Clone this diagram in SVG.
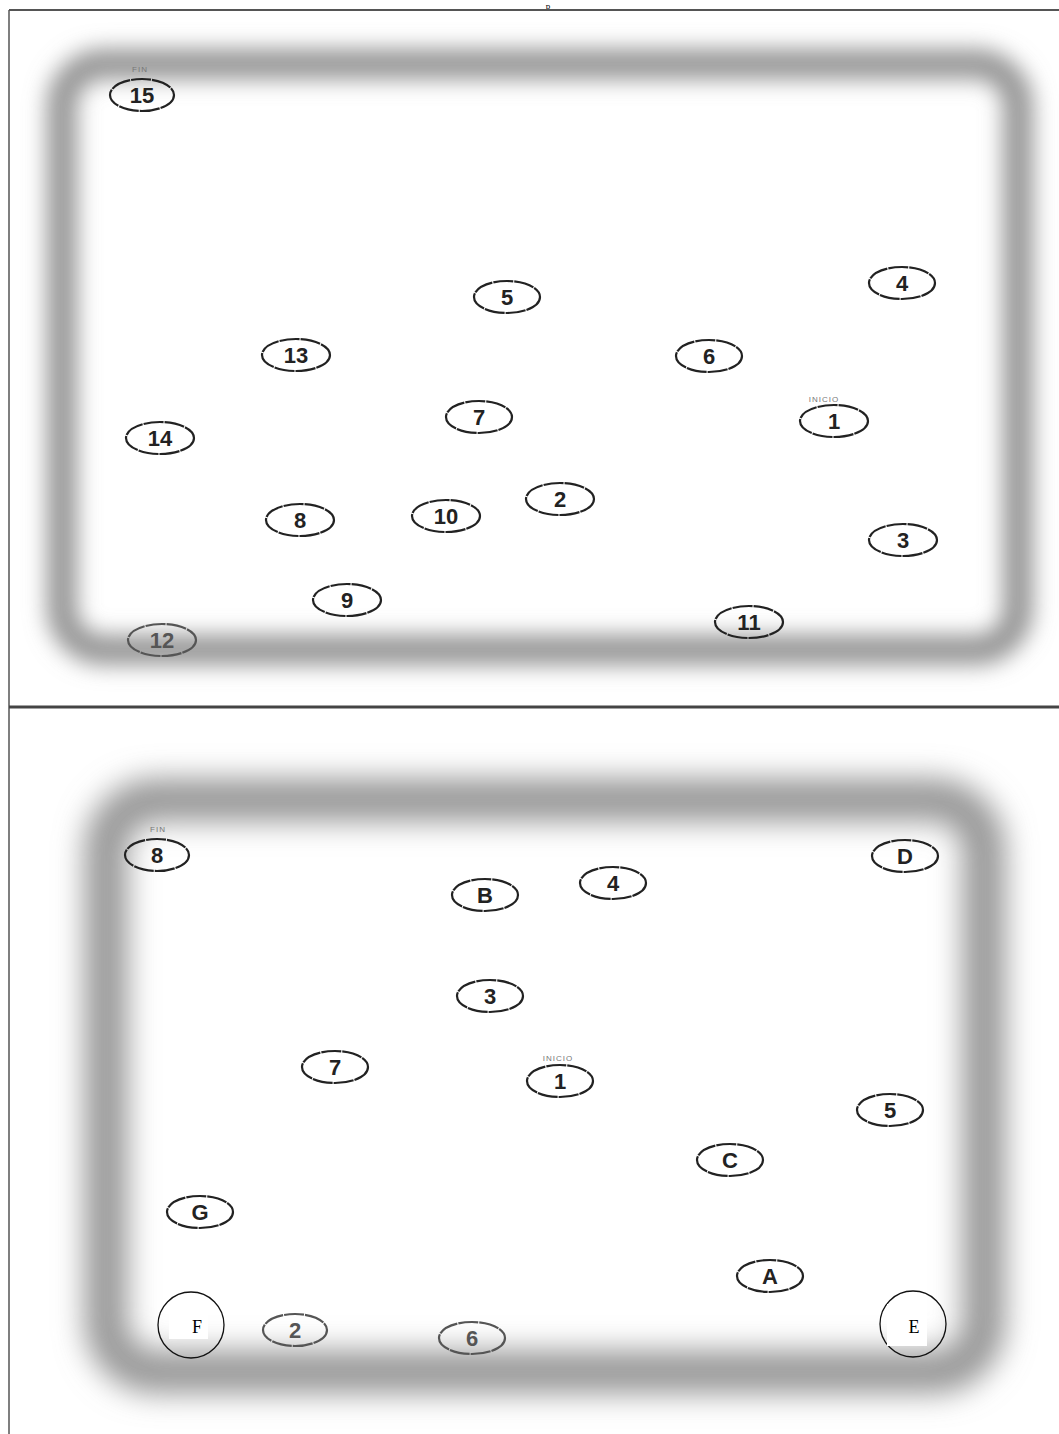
<svg xmlns="http://www.w3.org/2000/svg" width="1059" height="1434" viewBox="0 0 1059 1434">
<defs>
<filter id="blur" x="-10%" y="-10%" width="120%" height="120%"><feGaussianBlur stdDeviation="11"/></filter>
<filter id="blur2" x="-10%" y="-10%" width="120%" height="120%"><feGaussianBlur stdDeviation="15"/></filter>
<style>
.n ellipse{fill:none;stroke:#222;stroke-width:2.2;stroke-dasharray:20 1}
.n text{font-family:"Liberation Sans",Arial,sans-serif;font-size:22px;font-weight:bold;fill:#222;text-anchor:middle;dominant-baseline:central}
.lbl{font-family:"Liberation Sans",Arial,sans-serif;font-size:8px;fill:#777;text-anchor:middle;letter-spacing:1px}
.faint ellipse{stroke:#555}
.faint text{fill:#555}
.sq text{font-family:"Liberation Serif","Times New Roman",serif;font-size:18px;fill:#000;text-anchor:middle;dominant-baseline:central}
</style>
</defs>
<rect width="1059" height="1434" fill="#fff"/>
<text x="548" y="9" font-family="Liberation Serif,serif" font-size="9" text-anchor="middle" fill="#000">p</text>
<g id="frames">
<rect x="62" y="64" width="956" height="586" rx="42" fill="none" stroke="#959595" stroke-width="30" filter="url(#blur)"/>
<rect x="106" y="800" width="878" height="572" rx="50" fill="none" stroke="#959595" stroke-width="42" filter="url(#blur2)"/>
<line x1="9" y1="10" x2="1059" y2="10" stroke="#555" stroke-width="2"/>
<line x1="9" y1="10" x2="9" y2="1434" stroke="#555" stroke-width="1.5"/>
<line x1="9" y1="707" x2="1059" y2="707" stroke="#444" stroke-width="3"/>
</g>
<g id="connectors"></g>
<g id="top">
<text class="lbl" x="140" y="72">FIN</text>
<text class="lbl" x="824" y="402">INICIO</text>
<g id="t15" class="n"><ellipse cx="142" cy="95" rx="32" ry="16"/><text x="142" y="95">15</text></g>
<g id="t4" class="n"><ellipse cx="902" cy="283" rx="33" ry="16"/><text x="902" y="283">4</text></g>
<g id="t5" class="n"><ellipse cx="507" cy="297" rx="33" ry="16"/><text x="507" y="297">5</text></g>
<g id="t13" class="n"><ellipse cx="296" cy="355" rx="34" ry="16"/><text x="296" y="355">13</text></g>
<g id="t6" class="n"><ellipse cx="709" cy="356" rx="33" ry="16"/><text x="709" y="356">6</text></g>
<g id="t1" class="n"><ellipse cx="834" cy="421" rx="34" ry="16"/><text x="834" y="421">1</text></g>
<g id="t7" class="n"><ellipse cx="479" cy="417" rx="33" ry="16"/><text x="479" y="417">7</text></g>
<g id="t14" class="n"><ellipse cx="160" cy="438" rx="34" ry="16"/><text x="160" y="438">14</text></g>
<g id="t2" class="n"><ellipse cx="560" cy="499" rx="34" ry="16"/><text x="560" y="499">2</text></g>
<g id="t10" class="n"><ellipse cx="446" cy="516" rx="34" ry="16"/><text x="446" y="516">10</text></g>
<g id="t8" class="n"><ellipse cx="300" cy="520" rx="34" ry="16"/><text x="300" y="520">8</text></g>
<g id="t3" class="n"><ellipse cx="903" cy="540" rx="34" ry="16"/><text x="903" y="540">3</text></g>
<g id="t9" class="n"><ellipse cx="347" cy="600" rx="34" ry="16"/><text x="347" y="600">9</text></g>
<g id="t11" class="n"><ellipse cx="749" cy="622" rx="34" ry="16"/><text x="749" y="622">11</text></g>
<g id="t12" class="n faint"><ellipse cx="162" cy="640" rx="34" ry="16"/><text x="162" y="640">12</text></g>
</g>
<g id="bottom">
<text class="lbl" x="158" y="832">FIN</text>
<text class="lbl" x="558" y="1061">INICIO</text>
<g id="b8" class="n"><ellipse cx="157" cy="855" rx="32" ry="16"/><text x="157" y="855">8</text></g>
<g id="bD" class="n"><ellipse cx="905" cy="856" rx="33" ry="16"/><text x="905" y="856">D</text></g>
<g id="bB" class="n"><ellipse cx="485" cy="895" rx="33" ry="16"/><text x="485" y="895">B</text></g>
<g id="b4" class="n"><ellipse cx="613" cy="883" rx="33" ry="16"/><text x="613" y="883">4</text></g>
<g id="b3" class="n"><ellipse cx="490" cy="996" rx="33" ry="16"/><text x="490" y="996">3</text></g>
<g id="b7" class="n"><ellipse cx="335" cy="1067" rx="33" ry="16"/><text x="335" y="1067">7</text></g>
<g id="b1" class="n"><ellipse cx="560" cy="1081" rx="33" ry="16"/><text x="560" y="1081">1</text></g>
<g id="b5" class="n"><ellipse cx="890" cy="1110" rx="33" ry="16"/><text x="890" y="1110">5</text></g>
<g id="bC" class="n"><ellipse cx="730" cy="1160" rx="33" ry="16"/><text x="730" y="1160">C</text></g>
<g id="bG" class="n"><ellipse cx="200" cy="1212" rx="33" ry="16"/><text x="200" y="1212">G</text></g>
<g id="bA" class="n"><ellipse cx="770" cy="1276" rx="33" ry="16"/><text x="770" y="1276">A</text></g>
<g id="b2" class="n faint"><ellipse cx="295" cy="1330" rx="32" ry="16"/><text x="295" y="1330">2</text></g>
<g id="b6" class="n faint"><ellipse cx="472" cy="1338" rx="33" ry="16"/><text x="472" y="1338">6</text></g>
<g id="bF" class="sq"><circle cx="191" cy="1325" r="33" fill="none" stroke="#111" stroke-width="1.3"/><rect x="169" y="1314" width="39" height="25" fill="#fff"/><text x="197" y="1327">F</text></g>
<g id="bE" class="sq"><circle cx="913" cy="1324" r="33" fill="none" stroke="#111" stroke-width="1.3"/><rect x="887" y="1304" width="40" height="42" fill="#fff"/><text x="914" y="1327">E</text></g>
</g>
</svg>
